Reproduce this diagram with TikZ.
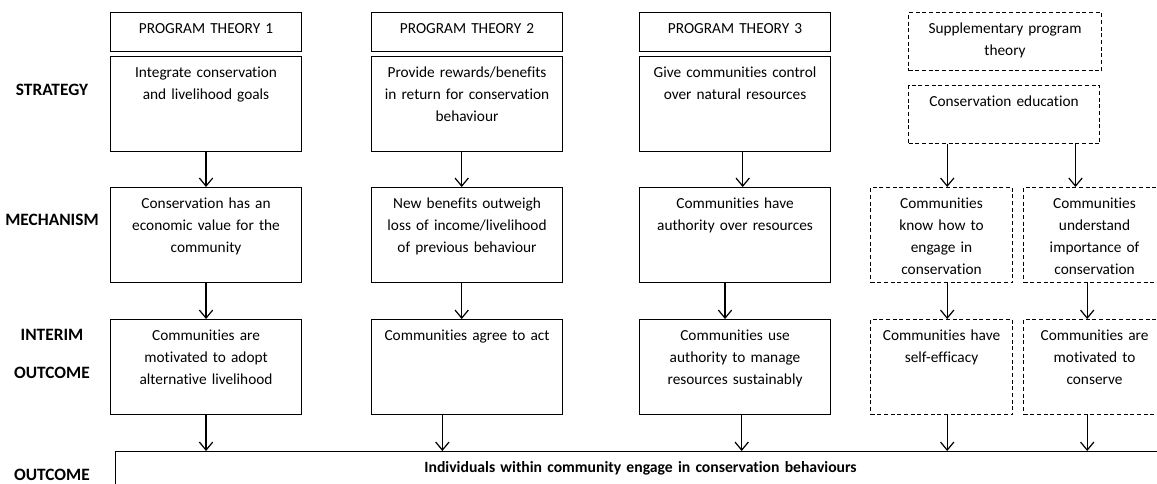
\documentclass[tikz,border=0pt]{standalone}
\usepackage{fontspec}
\setmainfont{Carlito}[Ligatures=NoCommon]
\usetikzlibrary{positioning,arrows.meta}

\begin{document}
\begin{tikzpicture}[x=0.75pt,y=-0.75pt,
    font=\fontsize{11.5}{16.3}\selectfont,
    box/.style={draw, line width=0.8pt, anchor=north west, inner xsep=0pt, inner ysep=0pt,
        align=center, text width=143.25pt, text height=16pt},
    dbox/.style={box, dash pattern=on 3pt off 2pt},
    narrow/.style={text width=106.5pt},
    titlerow/.style={text depth=13pt},
    tallrow/.style={text depth=55.5pt},
    shortrow/.style={text depth=27.75pt},
    arr/.style={line width=0.9pt, -{Straight Barb[length=6pt,width=10pt]}},
    stage/.style={font=\fontsize{13}{15}\selectfont\bfseries, anchor=base}]

    \path[use as bounding box, clip] (0,0) rectangle (1157,483);

    % row labels
    \node[stage] (lstr) at (52,95) {STRATEGY};
    \node[stage] (lmec) at (52,225) {MECHANISM};
    \node[stage] (lint) at (52,340) {INTERIM};
    \node[stage] (lout) at (52,378) {OUTCOME};
    \node[stage] (lfin) at (52,480) {OUTCOME};

    % program theories
    \node[box, titlerow] (t1) at (110,12) {PROGRAM THEORY 1};
    \node[box, titlerow] (t2) at (371,12) {PROGRAM THEORY 2};
    \node[box, titlerow] (t3) at (639,12) {PROGRAM THEORY 3};

    \node[box, tallrow] (s1) at (110,56) {Integrate conservation\\and livelihood goals};
    \node[box, tallrow] (s2) at (371,56) {Provide rewards/benefits\\in return for conservation\\behaviour};
    \node[box, tallrow] (s3) at (639,56) {Give communities control\\over natural resources};

    \node[box, tallrow] (m1) at (110,187) {Conservation has an\\economic value for the\\community};
    \node[box, tallrow] (m2) at (371,187) {New benefits outweigh\\loss of income/livelihood\\of previous behaviour};
    \node[box, tallrow] (m3) at (639,187) {Communities have\\authority over resources};

    \node[box, tallrow] (i1) at (110,319) {Communities are\\motivated to adopt\\alternative livelihood};
    \node[box, tallrow] (i2) at (371,319) {Communities agree to act};
    \node[box, tallrow] (i3) at (639,319) {Communities use\\authority to manage\\resources sustainably};

    % supplementary theory
    \node[dbox, shortrow, text width=144.75pt] (ts) at (908,12) {Supplementary program\\theory};
    \node[dbox, shortrow] (ed) at (908,85) {Conservation education};
    \node[dbox, narrow, tallrow] (dl) at (870,187) {Communities\\know how to\\engage in\\conservation};
    \node[dbox, narrow, tallrow] (dr) at (1023,187) {Communities\\understand\\importance of\\conservation};
    \node[dbox, narrow, tallrow] (il) at (870,319) {Communities have\\self-efficacy};
    \node[dbox, narrow, tallrow] (ir) at (1023,319) {Communities are\\motivated to\\conserve};

    % outcome
    \node[box, text width=787.5pt, text height=15.5pt, text depth=22pt,
        font=\fontsize{11.75}{15}\selectfont\bfseries] (o) at (115,451)
        {Individuals within community engage in conservation behaviours};

    % arrows
    \foreach \c/\a/\b/\d in {1/0/0/0, 2/-4/-4/-18.5, 3/5.75/-7.5/5} {
        \draw[arr] ([xshift=\a pt]s\c.south) -- ([xshift=\a pt]m\c.north);
        \draw[arr] ([xshift=\b pt]m\c.south) -- ([xshift=\b pt]i\c.north);
        \path ([xshift=\d pt]i\c.south) coordinate (e\c);
        \draw[arr] (e\c) -- (e\c |- o.north);
    }
    \path ([xshift=-42.6pt]ed.south) coordinate (ea) ([xshift=53.6pt]ed.south) coordinate (eb);
    \draw[arr] (ea) -- (ea |- dl.north);
    \draw[arr] (eb) -- (eb |- dr.north);
    \draw[arr] ([xshift=4.25pt]dl.south) -- ([xshift=4.25pt]il.north);
    \draw[arr] ([xshift=-5.5pt]dr.south) -- ([xshift=-5.5pt]ir.north);
    \path ([xshift=4.25pt]il.south) coordinate (el) ([xshift=-5.5pt]ir.south) coordinate (er);
    \draw[arr] (el) -- (el |- o.north);
    \draw[arr] (er) -- (er |- o.north);
\end{tikzpicture}
\end{document}
